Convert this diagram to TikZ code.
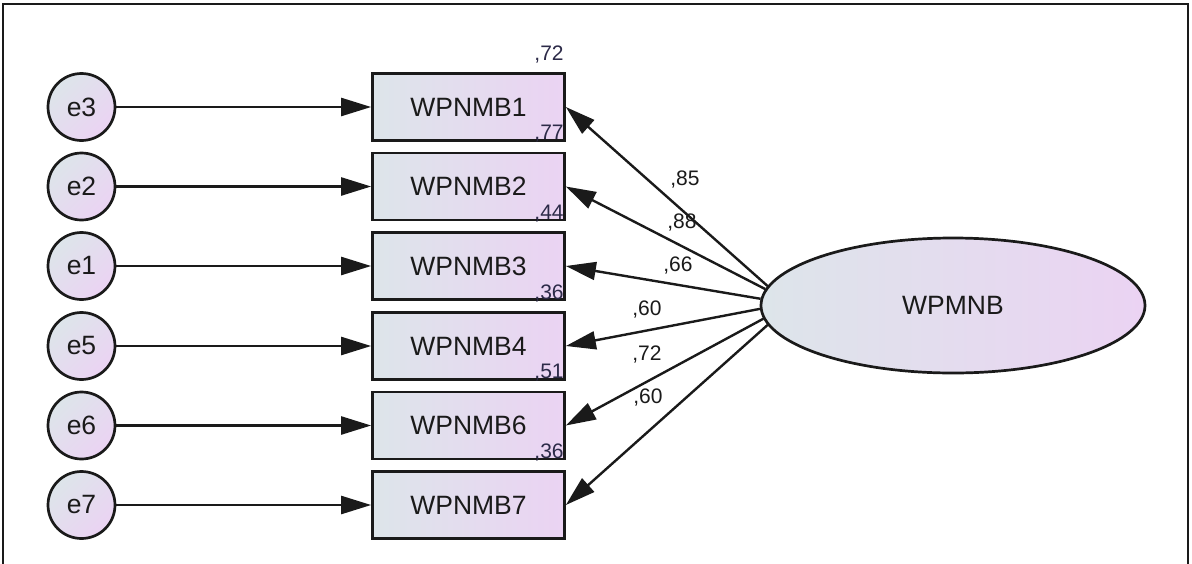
\documentclass[tikz,border=0pt]{standalone}
\usepackage{fontspec}
\setmainfont{Liberation Sans}
\usetikzlibrary{arrows.meta,shapes.geometric}
\definecolor{fillL}{HTML}{DDE5EA}
\definecolor{fillR}{HTML}{EBD3F3}
\definecolor{inkc}{HTML}{1A1A1A}
\definecolor{sqc}{HTML}{2C2A48}

\begin{document}
\begin{tikzpicture}[x=1pt,y=-1pt,
  obs/.style={draw=inkc, line width=2.7pt, minimum width=192pt, minimum height=67pt,
    inner sep=0pt, left color=fillL, right color=fillR,
    font=\fontsize{26.5}{30}\selectfont, text=inkc},
  err/.style={circle, draw=inkc, line width=2.7pt, minimum size=67pt, inner sep=0pt,
    top color=fillL, bottom color=fillR, shading angle=45,
    font=\fontsize{26.5}{30}\selectfont, text=inkc},
  lat/.style={ellipse, draw=inkc, line width=2.7pt, minimum width=384pt,
    minimum height=135pt, inner sep=0pt, left color=fillL, right color=fillR,
    font=\fontsize{26.5}{30}\selectfont, text=inkc},
  pth/.style={draw=inkc, line width=2.4pt, -{Triangle[length=30pt,width=18pt]}},
  rsq/.style={font=\fontsize{21}{24}\selectfont, text=sqc, inner sep=0pt, anchor=base east},
  ldg/.style={font=\fontsize{21}{24}\selectfont, text=inkc, inner sep=0pt}
]
\useasboundingbox (0,0) rectangle (1192,563);
\fill[white] (0,0) rectangle (1192,563);

% outer frame
\draw[inkc, line width=2.2pt] (3,570) -- (3,4) -- (1188,4) -- (1188,570);

% observed indicators
\node[obs] (b1) at (468.5,107)   {WPNMB1};
\node[obs] (b2) at (468.5,186.5) {WPNMB2};
\node[obs] (b3) at (468.5,266)   {WPNMB3};
\node[obs] (b4) at (468.5,346)   {WPNMB4};
\node[obs] (b6) at (468.5,425.5) {WPNMB6};
\node[obs] (b7) at (468.5,505)   {WPNMB7};

% error terms
\node[err] (e3) at (81.5,107)   {e3};
\node[err] (e2) at (81.5,186.5) {e2};
\node[err] (e1) at (81.5,266)   {e1};
\node[err] (e5) at (81.5,346)   {e5};
\node[err] (e6) at (81.5,425.5) {e6};
\node[err] (e7) at (81.5,505)   {e7};

% latent factor
\node[lat] (f) at (953,305.5) {WPMNB};

% error paths
\draw[pth] (e3) -- (b1);
\draw[pth] (e2) -- (b2);
\draw[pth] (e1) -- (b3);
\draw[pth] (e5) -- (b4);
\draw[pth] (e6) -- (b6);
\draw[pth] (e7) -- (b7);

% factor loadings
\draw[pth] (f.174.4) -- (b1.east);
\draw[pth] (f.175.3) -- (b2.east);
\draw[pth] (f.178)   -- (b3.east);
\draw[pth] (f.181.6) -- (b4.east);
\draw[pth] (f.184.3) -- (b6.east);
\draw[pth] (f.186.6) -- (b7.east);

\node[ldg] (l1) at (685,180) {,85};
\node[ldg] (l2) at (682,223) {,88};
\node[ldg] (l3) at (678,266) {,66};
\node[ldg] (l4) at (647,310) {,60};
\node[ldg] (l6) at (647,355) {,72};
\node[ldg] (l7) at (648,398) {,60};

% squared multiple correlations
\node[rsq] (r1) at ([shift={(-2,-12)}]b1.north east) {,72};
\node[rsq] (r2) at ([shift={(-2,-12)}]b2.north east) {,77};
\node[rsq] (r3) at ([shift={(-2,-12)}]b3.north east) {,44};
\node[rsq] (r4) at ([shift={(-2,-12)}]b4.north east) {,36};
\node[rsq] (r6) at ([shift={(-2,-12)}]b6.north east) {,51};
\node[rsq] (r7) at ([shift={(-2,-12)}]b7.north east) {,36};
\end{tikzpicture}
\end{document}
